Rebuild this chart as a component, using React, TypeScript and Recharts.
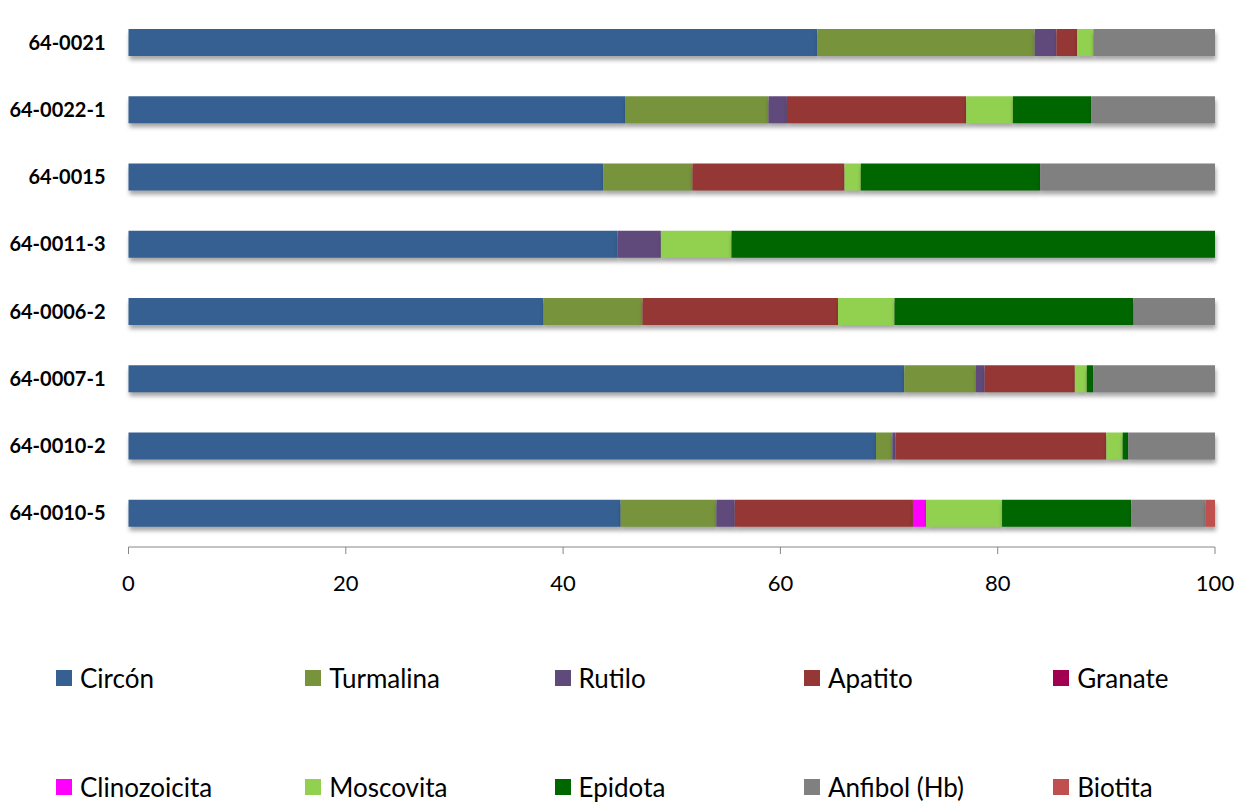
import { BarChart, Bar, XAxis, YAxis } from 'recharts';

const samples = ['64-0021', '64-0022-1', '64-0015', '64-0011-3', '64-0006-2', '64-0007-1', '64-0010-2', '64-0010-5'];

// percentage of each heavy mineral per sample
const circon = [63.4, 45.7, 43.7, 45.0, 38.2, 71.4, 68.8, 45.3];
const turmalina = [20.0, 13.2, 8.2, 0, 9.1, 6.6, 1.5, 8.8];
const rutilo = [2.0, 1.7, 0, 4.0, 0, 0.8, 0.3, 1.7];
const apatito = [1.9, 16.5, 14.0, 0, 18.0, 8.3, 19.4, 16.4];
const granate = [0, 0, 0, 0, 0, 0, 0, 0];
const clinozoicita = [0, 0, 0, 0, 0, 0, 0, 1.2];
const moscovita = [1.5, 4.3, 1.5, 6.5, 5.2, 1.1, 1.5, 7.0];
const epidota = [0, 7.2, 16.5, 44.5, 22.0, 0.6, 0.5, 11.9];
const anfibol = [11.2, 11.4, 16.1, 0, 7.5, 11.2, 8.0, 6.8];
const biotita = [0, 0, 0, 0, 0, 0, 0, 0.9];

const xTicks = [0, 20, 40, 60, 80, 100];
const bandTicks = [0, 1, 2, 3, 4, 5, 6, 7, 8];

const series = [
  { key: 'circon', name: 'Circón', values: circon, color: '#366092' },
  { key: 'turmalina', name: 'Turmalina', values: turmalina, color: '#77933C' },
  { key: 'rutilo', name: 'Rutilo', values: rutilo, color: '#604A7B' },
  { key: 'apatito', name: 'Apatito', values: apatito, color: '#953735' },
  { key: 'granate', name: 'Granate', values: granate, color: '#A0004F' },
  { key: 'clinozoicita', name: 'Clinozoicita', values: clinozoicita, color: '#FF00FF' },
  { key: 'moscovita', name: 'Moscovita', values: moscovita, color: '#92D050' },
  { key: 'epidota', name: 'Epidota', values: epidota, color: '#006600' },
  { key: 'anfibol', name: 'Anfibol (Hb)', values: anfibol, color: '#808080' },
  { key: 'biotita', name: 'Biotita', values: biotita, color: '#C0504D' },
];

const data = samples.map((sample, i) => {
  const row: Record<string, string | number> = { sample };
  series.forEach((s) => {
    row[s.key] = s.values[i];
  });
  return row;
});

const AXIS = '#868686';

function LegendBlock() {
  return (
    <div style={{ position: 'absolute', left: 0, top: 0, width: 1250, height: 805, pointerEvents: 'none' }}>
      {series.map((s, i) => {
        const col = i % 5;
        const row = Math.floor(i / 5);
        return (
          <div
            key={s.key}
            style={{
              position: 'absolute',
              left: 56 + col * 249.3,
              top: row === 0 ? 670 : 779,
              height: 16,
              display: 'flex',
              alignItems: 'center',
              whiteSpace: 'nowrap',
            }}
          >
            <span style={{ width: 16, height: 16, background: s.color, display: 'inline-block' }} />
            <span style={{ marginLeft: 8, fontFamily: 'Lato', fontSize: 26, lineHeight: '24px', color: '#000' }}>
              {s.name}
            </span>
          </div>
        );
      })}
    </div>
  );
}

export default function App() {
  return (
    <div style={{ position: 'absolute', left: 0, top: 0, width: 1250, height: 805, background: '#fff', overflow: 'hidden' }}>
      <style>{'.recharts-bar-rectangles { filter: drop-shadow(1px 4px 2px rgba(0,0,0,0.35)); }'}</style>
      <BarChart
        width={1250}
        height={805}
        data={data}
        layout="vertical"
        barSize={27}
        margin={{ top: 9, right: 35, left: 8.5, bottom: 218 }}
      >
        {/* boundary ticks between the sample rows */}
        <YAxis
          yAxisId="bands"
          type="number"
          domain={[0, 8]}
          ticks={bandTicks}
          width={0}
          tick={false}
          tickSize={7}
          stroke={AXIS}
          axisLine={{ stroke: AXIS }}
          tickLine={{ stroke: AXIS }}
        />
        <YAxis
          yAxisId="cat"
          type="category"
          dataKey="sample"
          width={120}
          axisLine={false}
          tickLine={false}
          tickSize={0}
          tickMargin={23}
          tick={{ fill: '#000', fontSize: 20, fontFamily: 'Lato', fontWeight: 700 }}
        />
        <XAxis
          type="number"
          domain={[0, 100]}
          ticks={xTicks}
          height={40}
          tickSize={7}
          tickMargin={21}
          axisLine={{ stroke: AXIS }}
          tickLine={{ stroke: AXIS }}
          tick={{ fill: '#000', fontSize: 22, fontFamily: 'Lato' }}
        />
        {series.map((s) => (
          <Bar
            key={s.key}
            yAxisId="cat"
            dataKey={s.key}
            name={s.name}
            stackId="total"
            fill={s.color}
            isAnimationActive={false}
          />
        ))}
      </BarChart>
      <LegendBlock />
    </div>
  );
}
